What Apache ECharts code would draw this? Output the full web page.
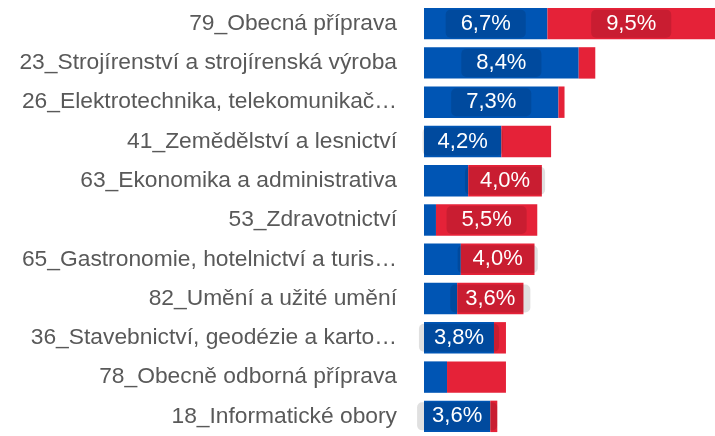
<!DOCTYPE html>
<html><head><meta charset="utf-8">
<script src="https://cdn.jsdelivr.net/npm/echarts@6/dist/echarts.min.js"></script>
<style>html,body{margin:0;padding:0;background:#fff}#c{width:715px;height:436px}</style>
</head><body><div id="c"></div>
<script>
const categories = [
  "79_Obecná příprava",
  "23_Strojírenství a strojírenská výroba",
  "26_Elektrotechnika, telekomunikační a výpočetní technika",
  "41_Zemědělství a lesnictví",
  "63_Ekonomika a administrativa",
  "53_Zdravotnictví",
  "65_Gastronomie, hotelnictví a turismus",
  "82_Umění a užité umění",
  "36_Stavebnictví, geodézie a kartografie",
  "78_Obecně odborná příprava",
  "18_Informatické obory"
];
const blueValues = [6.7, 8.4, 7.3, 4.2, 2.4, 0.65, 2.0, 1.8, 3.8, 1.25, 3.6];
const redValues  = [9.5, 0.9, 0.33, 2.7, 4.0, 5.5, 4.0, 3.6, 0.65, 3.2, 0.38];
const labelThreshold = 3.5;

const chart = echarts.init(document.getElementById('c'));
function mkData(vals){
  return vals.map(v => ({value: v, label: {show: v >= labelThreshold}}));
}
const labelStyle = {
  position: 'inside',
  color: '#fff',
  fontSize: 22,
  fontFamily: "'Liberation Sans', Arial, sans-serif",
  backgroundColor: 'rgba(0,0,0,0.12)',
  borderRadius: 5,
  padding: [3, 15, 3, 15],
  formatter: p => p.value.toFixed(1).replace('.', ',') + '%'
};
chart.setOption({
  animation: false,
  grid: {left: 424, right: 0, top: 4, height: 440, containLabel: false},
  xAxis: {type: 'value', min: 0, max: 15.8, show: false},
  yAxis: {
    type: 'category', inverse: true, data: categories,
    axisLine: {show: false}, axisTick: {show: false},
    axisLabel: {
      color: '#595959', fontSize: 22.8, margin: 27,
      fontFamily: "'Liberation Sans', Arial, sans-serif",
      width: 388, overflow: 'truncate', ellipsis: '…'
    }
  },
  series: [
    {type: 'bar', stack: 's', barWidth: '80%', data: mkData(blueValues),
     itemStyle: {color: '#0055B4'}, label: labelStyle},
    {type: 'bar', stack: 's', barWidth: '80%', data: mkData(redValues),
     itemStyle: {color: '#E52238'}, label: labelStyle}
  ]
});
</script></body></html>
